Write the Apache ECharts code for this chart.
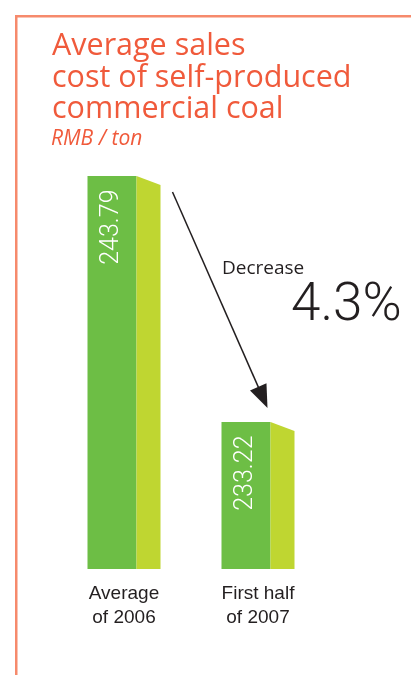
<!DOCTYPE html>
<html>
<head>
<meta charset="utf-8">
<script src="https://cdn.jsdelivr.net/npm/echarts@6/dist/echarts.min.js"></script>
<style>
html,body{margin:0;padding:0;background:#fff;}
#chart{width:411px;height:675px;}
</style>
</head>
<body>
<div id="chart"></div>
<script>
const titleText = 'Average sales\ncost of self-produced\ncommercial coal';
const unitText = 'RMB / ton';
const categories = ['Average\nof 2006', 'First half\nof 2007'];
const values = [243.79, 233.22];
const valueLabels = ['243.79', '233.22'];
const changeLabel = 'Decrease';
const changeValue = '4.3%';

const yMin = 226.9;
const yMax = Math.max(...values);

const chart = echarts.init(document.getElementById('chart'), null, {renderer: 'canvas'});

function renderBar(params, api) {
  const i = params.dataIndex;
  const top = api.coord([i, api.value(1)]);
  const base = api.coord([i, yMin]);
  const cx = top[0];
  const fl = cx - 36.5, fr = cx + 12.5, sr = cx + 36.5;
  const children = [
    {type: 'rect', shape: {x: fl, y: top[1], width: fr - fl, height: base[1] - top[1]}, style: {fill: '#6DBE45'}},
    {type: 'polygon', shape: {points: [[fr, top[1]], [sr, top[1] + 9], [sr, base[1]], [fr, base[1]]]}, style: {fill: '#BFD631'}},
    {type: 'text', x: cx - 12, y: top[1] + 13.5, rotation: Math.PI / 2,
      style: {text: valueLabels[i], fill: '#ffffff', font: '300 25px Roboto', align: 'right', verticalAlign: 'middle'}}
  ];
  if (i === 1) {
    const p0 = api.coord([0, values[0]]);
    const s = [p0[0] + 48.5, p0[1] + 16];
    const t = [fr - 3, top[1] - 14];
    const dx = t[0] - s[0], dy = t[1] - s[1];
    const len = Math.sqrt(dx * dx + dy * dy);
    const ux = dx / len, uy = dy / len;
    const hl = 23, hw = 9;
    const b = [t[0] - hl * ux, t[1] - hl * uy];
    children.push({type: 'line', shape: {x1: s[0], y1: s[1], x2: b[0] + 3 * ux, y2: b[1] + 3 * uy}, style: {stroke: '#231F20', lineWidth: 1.5}});
    children.push({type: 'polygon', shape: {points: [[t[0], t[1]], [b[0] - hw * uy, b[1] + hw * ux], [b[0] + hw * uy, b[1] - hw * ux]]}, style: {fill: '#231F20'}});
  }
  return {type: 'group', children: children};
}

chart.setOption({
  animation: false,
  backgroundColor: '#ffffff',
  title: [
    {text: titleText, left: 52, top: 31, padding: 0,
      textStyle: {color: '#F05A3B', fontFamily: 'Open Sans', fontWeight: 'normal', fontSize: 30.5, lineHeight: 31.3}},
    {text: unitText, left: 51, top: 129, padding: 0,
      textStyle: {color: '#F05A3B', fontFamily: 'Open Sans', fontStyle: 'italic', fontWeight: 'normal', fontSize: 21, lineHeight: 21}}
  ],
  grid: {left: 57, right: 86, top: 176, bottom: 106, containLabel: false},
  xAxis: {
    type: 'category', data: categories,
    axisLine: {show: false}, axisTick: {show: false},
    axisLabel: {color: '#231F20', fontFamily: 'Liberation Sans', fontSize: 19, lineHeight: 24, margin: 13}
  },
  yAxis: {type: 'value', min: yMin, max: yMax, show: false, splitLine: {show: false}},
  series: [{
    type: 'custom',
    renderItem: renderBar,
    data: values.map((v, i) => [i, v]),
    encode: {x: 0, y: 1}
  }],
  graphic: [
    {type: 'rect', shape: {x: 15, y: 15, width: 2.5, height: 660}, style: {fill: '#F68A6C'}},
    {type: 'rect', shape: {x: 15, y: 15, width: 396, height: 2.5}, style: {fill: '#F68A6C'}},
    {type: 'text', x: 222, y: 268.5, style: {text: changeLabel, fill: '#231F20', font: '19px "Open Sans"', align: 'left', verticalAlign: 'middle'}},
    {type: 'text', x: 291, y: 307, style: {text: changeValue, fill: '#231F20', font: '300 53px Roboto', align: 'left', verticalAlign: 'middle'}}
  ]
});
</script>
</body>
</html>
